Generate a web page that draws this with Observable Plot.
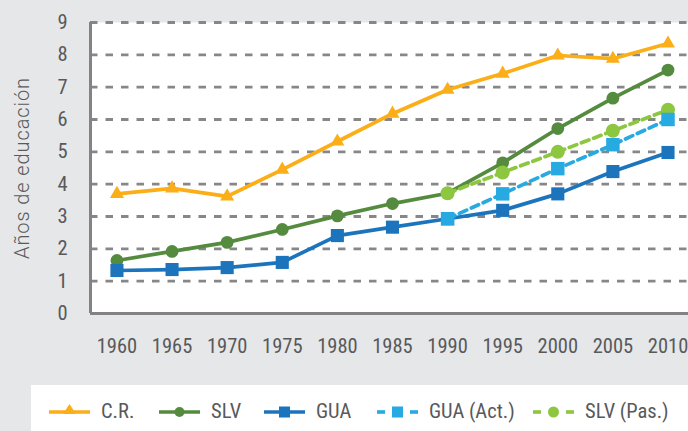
<!DOCTYPE html>
<html>
<head>
<meta charset="utf-8">
<script src="https://cdn.jsdelivr.net/npm/d3@7"></script>
<script src="https://cdn.jsdelivr.net/npm/@observablehq/plot@0.6"></script>
<style>
  html, body { margin: 0; padding: 0; background: #e6e7e8; overflow: hidden; }
  body { width: 688px; height: 431px; position: relative;
         font-family: "Liberation Sans Narrow", "Roboto Condensed", "DejaVu Sans Condensed", sans-serif; }
  #legend { position: absolute; left: 31px; top: 385px; width: 657px; height: 46px; background: #fff; }
  .item { position: absolute; top: 0; height: 46px; }
  .item svg { position: absolute; top: 18px; left: 0; }
  .item span { position: absolute; top: 15px; font-size: 20.5px; color: #58595b; white-space: nowrap; line-height: 22px; }
</style>
</head>
<body>
<div id="chart"></div>
<div id="legend"></div>
<script>
const years = [1960, 1965, 1970, 1975, 1980, 1985, 1990, 1995, 2000, 2005, 2010];
const cr  = [3.70, 3.87, 3.62, 4.45, 5.32, 6.18, 6.92, 7.42, 7.98, 7.88, 8.35];
const slv = [1.64, 1.92, 2.20, 2.60, 3.02, 3.40, 3.72, 4.66, 5.72, 6.66, 7.53];
const gua = [1.33, 1.36, 1.42, 1.58, 2.41, 2.67, 2.93, 3.19, 3.70, 4.39, 4.98];
const projYears = [1990, 1995, 2000, 2005, 2010];
const guaAct = [2.93, 3.70, 4.48, 5.22, 6.00];
const slvPas = [3.72, 4.36, 5.00, 5.65, 6.30];
const yTicks = [0, 1, 2, 3, 4, 5, 6, 7, 8, 9];
const seriesNames = ["C.R.", "SLV", "GUA", "GUA (Act.)", "SLV (Pas.)"];
const colors = {"C.R.": "#fbae17", "SLV": "#558b3f", "GUA": "#1c75bc", "GUA (Act.)": "#27aae1", "SLV (Pas.)": "#8dc63f"};
const yLabel = "Años de educación";

const FONT = '"Liberation Sans Narrow", "Roboto Condensed", "DejaVu Sans Condensed", sans-serif';
const xMin = 1957.6, xMax = 2011.86;

const rows = (xs, vs, s) => xs.map((x, i) => ({year: x, value: vs[i], series: s}));
const dCR = rows(years, cr, "C.R.");
const dSLV = rows(years, slv, "SLV");
const dGUA = rows(years, gua, "GUA");
const dGA = rows(projYears, guaAct, "GUA (Act.)");
const dSP = rows(projYears, slvPas, "SLV (Pas.)");

const lw = 3.7;
const chart = Plot.plot({
  width: 688, height: 385,
  marginTop: 22, marginBottom: 72, marginLeft: 90, marginRight: 0,
  style: {background: "transparent", fontFamily: FONT, fontSize: "20.5px", color: "#58595b"},
  x: {domain: [xMin, xMax], ticks: years, tickFormat: d => String(d), tickSize: 0, tickPadding: 25, label: null},
  y: {domain: [0, 9], ticks: yTicks, tickFormat: d => String(d), tickSize: 0, tickPadding: 23, label: null},
  marks: [
    Plot.frame({fill: "white", stroke: null}),
    Plot.ruleY(yTicks.filter(v => v > 0), {stroke: "#87878a", strokeWidth: 2.8, strokeDasharray: "7.5,8"}),
    Plot.ruleY([0], {stroke: "#838385", strokeWidth: 3}),
    Plot.ruleX([xMin], {stroke: "#838385", strokeWidth: 3}),
    Plot.text([yLabel], {frameAnchor: "left", textAnchor: "middle", lineAnchor: "middle", rotate: -90, dx: -68,
      fontSize: 20, fontWeight: 300, fontFamily: "Roboto, 'Open Sans', sans-serif", fill: "#58595b"}),
    Plot.line(dCR, {x: "year", y: "value", stroke: colors["C.R."], strokeWidth: lw}),
    Plot.dot(dCR, {x: "year", y: "value", symbol: "triangle", r: 5.2, fill: colors["C.R."], stroke: null}),
    Plot.line(dSLV, {x: "year", y: "value", stroke: colors["SLV"], strokeWidth: lw}),
    Plot.dot(dSLV, {x: "year", y: "value", r: 6.4, fill: colors["SLV"], stroke: null}),
    Plot.line(dGUA, {x: "year", y: "value", stroke: colors["GUA"], strokeWidth: lw}),
    Plot.dot(dGUA, {x: "year", y: "value", symbol: "square", r: 7.4, fill: colors["GUA"], stroke: null}),
    Plot.line(dSP, {x: "year", y: "value", stroke: colors["SLV (Pas.)"], strokeWidth: lw, strokeDasharray: "8,5"}),
    Plot.dot(dSP, {x: "year", y: "value", r: 7, fill: colors["SLV (Pas.)"], stroke: null}),
    Plot.line(dGA, {x: "year", y: "value", stroke: colors["GUA (Act.)"], strokeWidth: lw, strokeDasharray: "8,5"}),
    Plot.dot(dGA, {x: "year", y: "value", symbol: "square", r: 7.6, fill: colors["GUA (Act.)"], stroke: null})
  ]
});
d3.select(chart).selectAll("text").filter(function() { return this.textContent === yLabel; })
  .style("letter-spacing", "0.9px");
document.getElementById("chart").appendChild(chart);

// Legend
const legendLeft = [18, 128, 233, 346, 502];
const symbols = ["triangle", "circle", "square", "square", "circle"];
const dashed = [false, false, false, true, true];
const leg = document.getElementById("legend");
seriesNames.forEach((name, i) => {
  const c = colors[name];
  const item = document.createElement("div");
  item.className = "item";
  item.style.left = legendLeft[i] + "px";
  let marker = "";
  if (symbols[i] === "triangle") marker = `<polygon points="20.5,1 27,11 14,11" fill="${c}"/>`;
  else if (symbols[i] === "circle") marker = `<circle cx="20.5" cy="9" r="${dashed[i] ? 5.5 : 5}" fill="${c}"/>`;
  else marker = `<rect x="${20.5 - 5.5}" y="3.5" width="11" height="11" fill="${c}"/>`;
  const line = dashed[i]
    ? `<line x1="0" y1="9" x2="8" y2="9" stroke="${c}" stroke-width="3.6"/><line x1="33" y1="9" x2="41" y2="9" stroke="${c}" stroke-width="3.6"/>`
    : `<line x1="0" y1="9" x2="41" y2="9" stroke="${c}" stroke-width="3.6"/>`;
  item.innerHTML = `<svg width="41" height="18">${line}${marker}</svg><span style="left:52px">${name}</span>`;
  leg.appendChild(item);
});
</script>
</body>
</html>
